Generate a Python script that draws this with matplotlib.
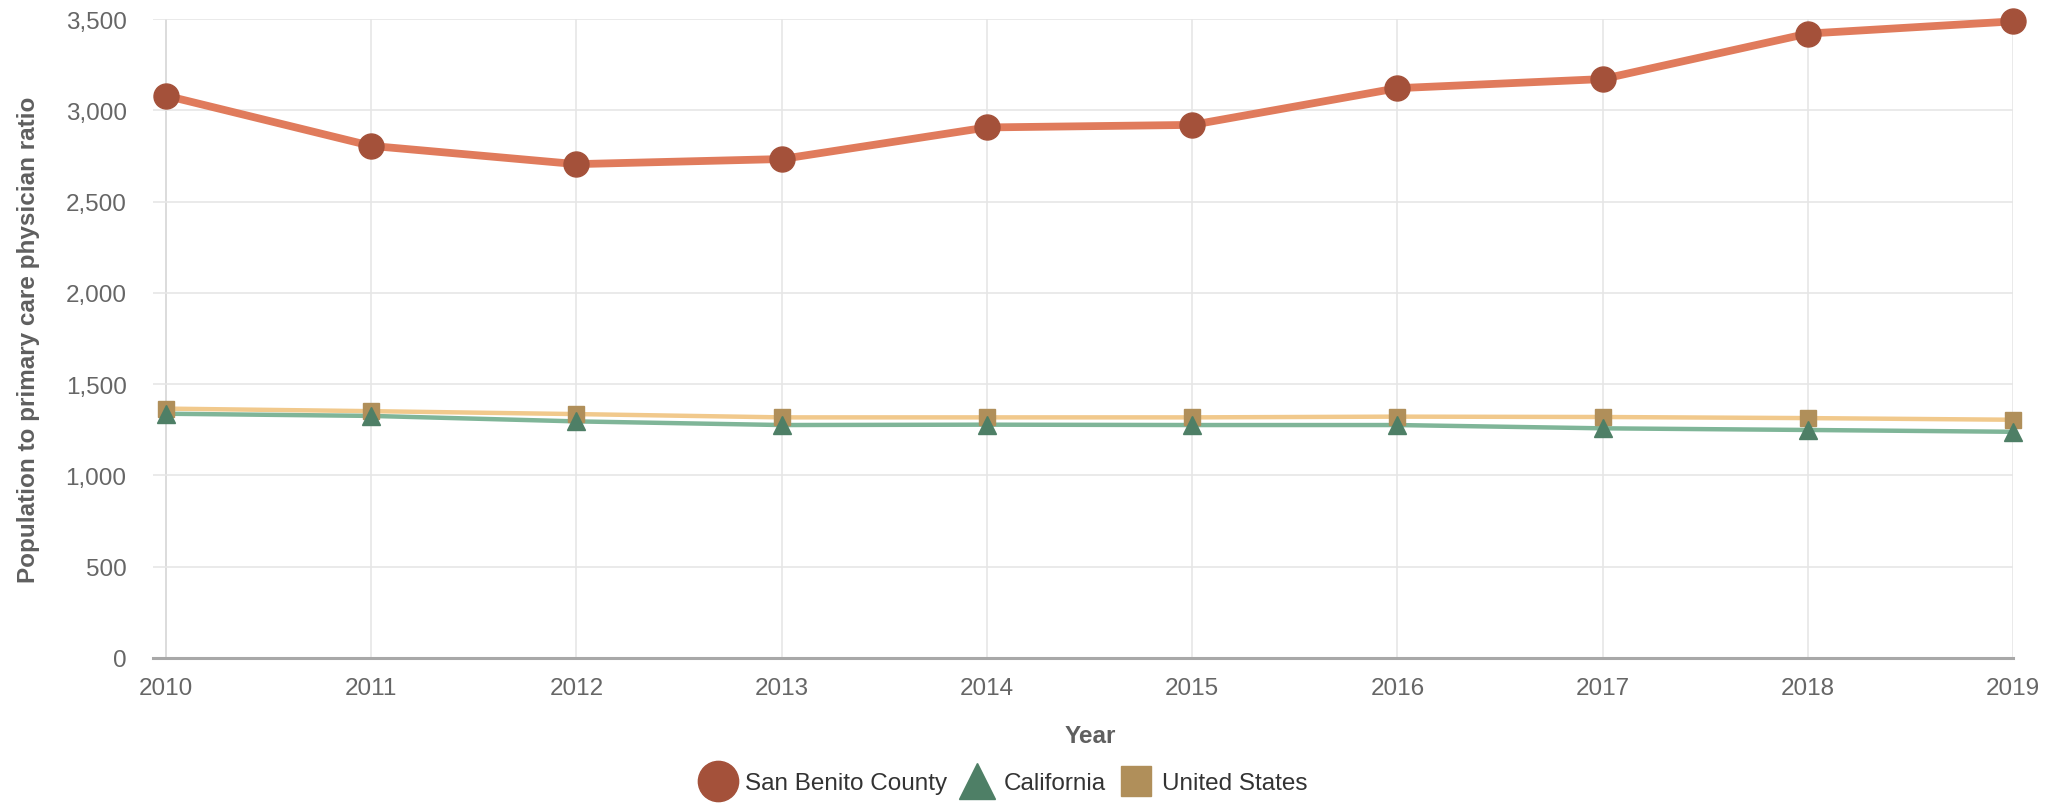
import matplotlib.pyplot as plt
from matplotlib.lines import Line2D
from matplotlib.ticker import FuncFormatter

plt.rcParams['font.family'] = ['Liberation Sans', 'DejaVu Sans']

years = [2010, 2011, 2012, 2013, 2014, 2015, 2016, 2017, 2018, 2019]
san_benito = [3080, 2805, 2705, 2733, 2906, 2920, 3121, 3171, 3420, 3487]
california = [1338, 1326, 1296, 1276, 1278, 1276, 1276, 1258, 1249, 1239]
united_states = [1366, 1352, 1336, 1318, 1318, 1318, 1322, 1320, 1314, 1305]

series = [
    ('San Benito County', san_benito, '#e07b5c', '#a4513a', 'o', 5.6, 18),
    ('California', california, '#7fb598', '#4e7f66', '^', 3.2, 13),
    ('United States', united_states, '#f1c98c', '#b08f5a', 's', 3.2, 11),
]

fig = plt.figure(figsize=(20.54, 8.04), dpi=100)
ax = fig.add_axes([153 / 2054, 1 - 659 / 804, (2013 - 153) / 2054, (659 - 20) / 804])

# draw US first so California sits on top, San Benito above both
for name, vals, lc, mc, mk, lw, ms in reversed(series):
    ax.plot(years, vals, color=lc, linewidth=lw, zorder=3, clip_on=False)
    ax.plot(years, vals, linestyle='none', marker=mk, markersize=ms,
            markerfacecolor=mc, markeredgecolor=mc, zorder=4, clip_on=False)

ax.set_xlim(2010 - 13 / 205, 2019)
ax.set_ylim(0, 3500)
ax.set_xticks(years)
ax.set_yticks(range(0, 3501, 500))
ax.yaxis.set_major_formatter(FuncFormatter(lambda v, p: f'{int(v):,}'))

ax.grid(True, color='#e6e6e6', linewidth=1.2, zorder=0)
ax.axvline(2010, color='#a8a8a8', linewidth=1.3, zorder=1)
for s in ['top', 'right', 'left']:
    ax.spines[s].set_visible(False)
ax.spines['bottom'].set_color('#a8a8a8')
ax.spines['bottom'].set_linewidth(2.2)

ax.tick_params(axis='both', length=0, labelsize=17.5, labelcolor='#666666')
ax.tick_params(axis='x', pad=14)
ax.tick_params(axis='y', pad=19)

fig.text(29 / 2054, 1 - 340 / 804, 'Population to primary care physician ratio',
         rotation=90, ha='center', va='center', fontsize=17.5,
         fontweight='bold', color='#5f5f5f')
fig.text(1090 / 2054, 1 - 737 / 804, 'Year', ha='center', va='center',
         fontsize=17.5, fontweight='bold', color='#5f5f5f')

handles = [
    Line2D([], [], linestyle='none', marker='o', markersize=29,
           markerfacecolor='#a4513a', markeredgecolor='#a4513a'),
    Line2D([], [], linestyle='none', marker='^', markersize=26,
           markerfacecolor='#4e7f66', markeredgecolor='#4e7f66'),
    Line2D([], [], linestyle='none', marker='s', markersize=21,
           markerfacecolor='#b08f5a', markeredgecolor='#b08f5a'),
]
fig.legend(handles, [s[0] for s in series], loc='center',
           bbox_to_anchor=(1007 / 2054, 1 - 784 / 804), ncol=3, frameon=False,
           fontsize=17.5, labelcolor='#333333', handlelength=1.0,
           handletextpad=0.58, columnspacing=0.75, borderpad=0)

fig.savefig('out.png', dpi=100, facecolor='white')
